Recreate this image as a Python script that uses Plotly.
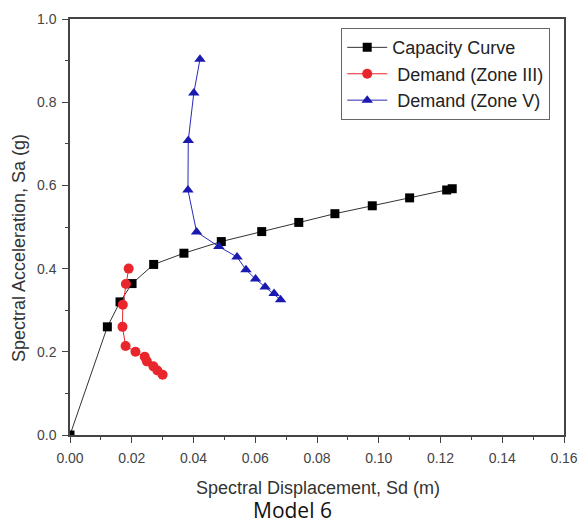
import plotly.graph_objects as go

cap_x = [0, 0.0121, 0.0162, 0.0201, 0.0271, 0.0369, 0.049, 0.0621, 0.0741, 0.0858, 0.0979, 0.110, 0.122, 0.1238]
cap_y = [0, 0.26, 0.32, 0.364, 0.41, 0.437, 0.465, 0.489, 0.511, 0.532, 0.551, 0.570, 0.589, 0.592]

z3_x = [0.019, 0.0181, 0.0171, 0.0170, 0.018, 0.0212, 0.0242, 0.0249, 0.027, 0.0283, 0.030]
z3_y = [0.40, 0.363, 0.313, 0.26, 0.214, 0.200, 0.188, 0.177, 0.165, 0.155, 0.145]

z5_x = [0.0421, 0.0401, 0.0383, 0.0382, 0.0410, 0.0482, 0.0541, 0.0570, 0.0601, 0.0632, 0.0661, 0.0682]
z5_y = [0.903, 0.822, 0.708, 0.589, 0.488, 0.453, 0.428, 0.397, 0.375, 0.356, 0.340, 0.325]

x_title = "Spectral Displacement, Sd (m)"
y_title = "Spectral Acceleration, Sa (g)"
caption = "Model 6"

fig = go.Figure()
fig.add_trace(go.Scatter(x=cap_x, y=cap_y, mode="lines+markers", name="Capacity Curve",
                         line=dict(color="#333333", width=1),
                         marker=dict(symbol="square", size=9, color="#000000")))
fig.add_trace(go.Scatter(x=z3_x, y=z3_y, mode="lines+markers", name=" Demand (Zone III)",
                         line=dict(color="#e8262b", width=1),
                         marker=dict(symbol="circle", size=10, color="#e8262b")))
fig.add_trace(go.Scatter(x=z5_x, y=z5_y, mode="lines+markers", name=" Demand (Zone V)",
                         line=dict(color="#2a2ab8", width=1),
                         marker=dict(symbol="triangle-up", size=10, color="#1a1ab0")))

axis_common = dict(showgrid=False, zeroline=False, showline=True, linecolor="#444444", linewidth=1.5,
                   mirror=True, ticks="outside", ticklen=6, tickwidth=1, tickcolor="#444444",
                   ticklabelstandoff=3, automargin=False,
                   tickfont=dict(family="Liberation Sans, Arial", size=14, color="#444444"))

fig.update_xaxes(range=[0, 0.16], dtick=0.02, tickformat=".2f",
                 minor=dict(ticks="outside", ticklen=3, dtick=0.01, tickcolor="#444444"),
                 **axis_common)
fig.update_yaxes(range=[0, 1.0], dtick=0.2, tickformat=".1f",
                 minor=dict(ticks="outside", ticklen=3, dtick=0.1, tickcolor="#444444"),
                 **axis_common)

fig.add_annotation(text=x_title, xref="paper", yref="paper", x=0.5, y=0, xshift=1, yshift=-53,
                   xanchor="center", yanchor="middle", showarrow=False,
                   font=dict(family="Liberation Sans, Arial", size=18, color="#333333"))
fig.add_annotation(text=y_title, xref="paper", yref="paper", x=0, y=0.5, xshift=-51, yshift=-21,
                   xanchor="center", yanchor="middle", showarrow=False, textangle=-90,
                   font=dict(family="Liberation Sans, Arial", size=18, color="#333333"))
fig.add_annotation(text=caption, xref="paper", yref="paper", x=0.5, y=0, xshift=-25, yshift=-75,
                   xanchor="center", yanchor="middle", showarrow=False,
                   font=dict(family="Open Sans, Noto Sans", size=21, color="#111111"))

fig.update_layout(
    width=581, height=523,
    margin=dict(l=70, r=17, t=19, b=88),
    plot_bgcolor="white", paper_bgcolor="white",
    legend=dict(x=0.549, y=0.978, xanchor="left", yanchor="top",
                bordercolor="#666666", borderwidth=1, bgcolor="white",
                font=dict(family="Liberation Sans, Arial", size=18, color="#222222"),
                tracegroupgap=0, itemwidth=40),
)

fig.write_html("out.html")
